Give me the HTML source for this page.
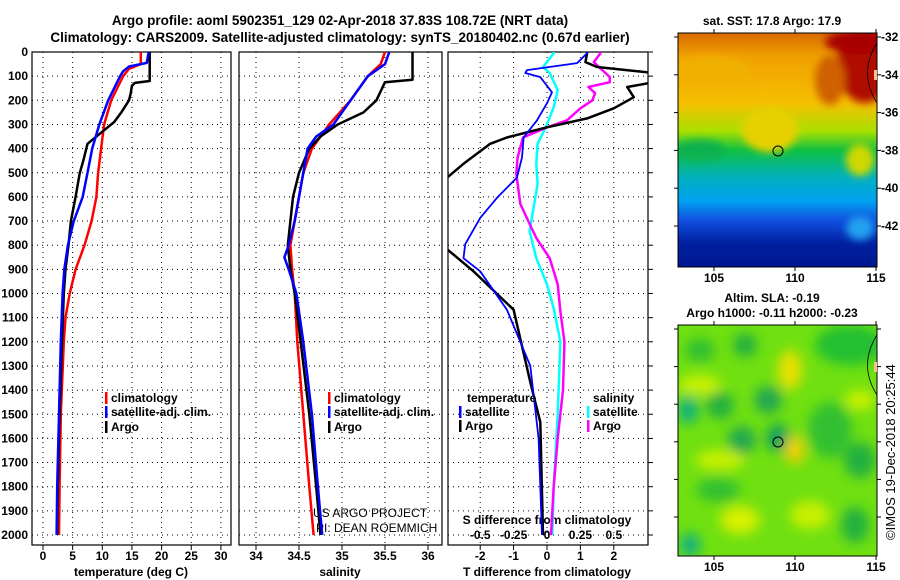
<!DOCTYPE html>
<html><head><meta charset="utf-8">
<style>
html,body{margin:0;padding:0;background:#fff;}
svg{display:block;font-family:"Liberation Sans",Arial,sans-serif;}
.b{font-weight:bold;font-size:12px;}
.t{font-weight:bold;font-size:13.5px;}
</style></head>
<body>
<svg id="chart" width="900" height="580" viewBox="0 0 900 580" xmlns="http://www.w3.org/2000/svg">
<defs>
<clipPath id="c1"><rect x="32" y="52" width="199" height="493"/></clipPath>
<clipPath id="c2"><rect x="239" y="52" width="203" height="493"/></clipPath>
<clipPath id="c3"><rect x="448" y="52" width="200" height="493"/></clipPath>
<clipPath id="cm1"><rect x="678" y="33" width="199" height="234"/></clipPath>
<clipPath id="cm2"><rect x="678" y="325" width="199" height="231"/></clipPath>
<filter id="bl" x="-50%" y="-50%" width="200%" height="200%"><feGaussianBlur stdDeviation="6"/></filter>
<filter id="bl2" x="-50%" y="-50%" width="200%" height="200%"><feGaussianBlur stdDeviation="4"/></filter>
<linearGradient id="sst" x1="0" y1="0" x2="0" y2="1">
<stop offset="0" stop-color="#d86a00"/><stop offset="0.1" stop-color="#f0a000"/>
<stop offset="0.3" stop-color="#f5c000"/><stop offset="0.42" stop-color="#a8e000"/>
<stop offset="0.5" stop-color="#10c040"/><stop offset="0.62" stop-color="#00b0c0"/>
<stop offset="0.72" stop-color="#00a0f0"/><stop offset="0.8" stop-color="#1050e0"/>
<stop offset="0.9" stop-color="#0020a0"/><stop offset="1" stop-color="#001890"/>
</linearGradient>
</defs>
<text class="t" x="340" y="25" text-anchor="middle">Argo profile: aoml 5902351_129 02-Apr-2018 37.83S 108.72E (NRT data)</text>
<text class="t" x="340" y="42" text-anchor="middle">Climatology: CARS2009. Satellite-adjusted climatology: synTS_20180402.nc (0.67d earlier)</text>
<g id="plots"></g>

<!-- maps -->
<g clip-path="url(#cm1)">
<rect x="678" y="33" width="199" height="234" fill="url(#sst)"/>
<g filter="url(#bl2)">
<ellipse cx="865" cy="65" rx="28" ry="38" fill="#b01000"/>
<ellipse cx="860" cy="42" rx="35" ry="12" fill="#a80000"/>
<ellipse cx="830" cy="80" rx="15" ry="25" fill="#d06000"/>
<ellipse cx="770" cy="130" rx="28" ry="22" fill="#e8d000"/>
<ellipse cx="700" cy="150" rx="25" ry="10" fill="#10b050"/>
<ellipse cx="860" cy="160" rx="14" ry="16" fill="#d0d800"/>
<ellipse cx="860" cy="228" rx="14" ry="12" fill="#20a0f0"/>
<ellipse cx="710" cy="70" rx="40" ry="14" fill="#f0b000"/>
</g>
</g>
<rect x="678" y="33" width="199" height="234" fill="none" stroke="#000"/>
<circle cx="778" cy="151" r="5" fill="none" stroke="#000"/>
<text class="b" x="772" y="25" text-anchor="middle">sat. SST: 17.8 Argo: 17.9</text>

<g clip-path="url(#cm2)">
<rect x="678" y="325" width="199" height="231" fill="#70e010"/>
<g filter="url(#bl)">
<ellipse cx="745" cy="345" rx="12" ry="12" fill="#20b040"/>
<ellipse cx="850" cy="345" rx="35" ry="20" fill="#20c030"/>
<ellipse cx="700" cy="350" rx="15" ry="12" fill="#30c030"/>
<ellipse cx="720" cy="405" rx="14" ry="14" fill="#20b040"/>
<ellipse cx="768" cy="400" rx="14" ry="14" fill="#20a850"/>
<ellipse cx="742" cy="440" rx="14" ry="14" fill="#20a850"/>
<ellipse cx="778" cy="438" rx="12" ry="14" fill="#10a060"/>
<ellipse cx="688" cy="410" rx="10" ry="14" fill="#10b080"/>
<ellipse cx="830" cy="430" rx="22" ry="28" fill="#30c030"/>
<ellipse cx="860" cy="460" rx="16" ry="18" fill="#20b040"/>
<ellipse cx="718" cy="490" rx="22" ry="12" fill="#30c030"/>
<ellipse cx="855" cy="525" rx="14" ry="18" fill="#20b040"/>
<ellipse cx="690" cy="545" rx="10" ry="12" fill="#10b080"/>
<ellipse cx="790" cy="370" rx="12" ry="20" fill="#e8e000"/>
<ellipse cx="795" cy="450" rx="10" ry="14" fill="#f0d000"/>
<ellipse cx="740" cy="520" rx="20" ry="14" fill="#d8f000"/>
<ellipse cx="810" cy="515" rx="20" ry="14" fill="#c8f000"/>
<ellipse cx="720" cy="460" rx="25" ry="10" fill="#c8f000"/>
<ellipse cx="700" cy="385" rx="22" ry="10" fill="#c8f000"/>
<ellipse cx="860" cy="400" rx="15" ry="10" fill="#c8f000"/>
</g>
</g>
<rect x="678" y="325" width="199" height="231" fill="none" stroke="#000"/>
<circle cx="778" cy="442" r="5" fill="none" stroke="#000"/>
<text class="b" x="772" y="302" text-anchor="middle">Altim. SLA: -0.19</text>
<text class="b" x="772" y="317" text-anchor="middle">Argo h1000: -0.11 h2000: -0.23</text>
<text x="895" y="540" font-size="13" transform="rotate(-90 895 540)">©IMOS 19-Dec-2018 20:25:44</text>
<g id="maps"></g>
</svg>
<script>
// ---- data ----
const depthTicks=[0,100,200,300,400,500,600,700,800,900,1000,1100,1200,1300,1400,1500,1600,1700,1800,1900,2000];
const tempTicks=[0,5,10,15,20,25,30];
const salTicks=[34,34.5,35,35.5,36];
const salTickLabels=["34","34.5","35","35.5","36"];
const tdiffTicks=[-2,-1,0,1,2];
const sdiffTicks=[-0.5,-0.25,0,0.25,0.5];
const sdiffLabels=["-0.5","-0.25","0","0.25","0.5"];
const latTicks=[-32,-34,-36,-38,-40,-42];
const lonTicks=[105,110,115];

const tClimP=[0,50,70,100,200,300,400,500,600,700,800,900,1000,1100,1200,1500,1800,2000];
const tClimV=[16.5,16.5,14.5,13.5,11.5,10.3,9.8,9.3,9.0,8.2,7.0,5.5,4.5,3.8,3.5,3.0,2.8,2.7];
const tSatP=[0,45,60,80,100,150,200,300,400,500,600,700,800,900,1000,1200,1500,1800,2000];
const tSatV=[17.8,17.5,14.5,13.5,13,12,11,9.5,8.3,7.5,6.7,5.2,4.2,3.6,3.3,3.0,2.7,2.4,2.3];
const tArgoP=[0,120,128,140,170,200,250,290,330,380,450,500,600,700,800,900,1000,1200,1500,1800,2000];
const tArgoV=[18,18,15.5,15,14.8,14.5,13.2,12,10,7.5,6.8,6.2,5.5,4.7,4.3,3.8,3.5,3.2,2.8,2.5,2.4];

const sClimP=[0,50,100,200,300,400,500,600,700,800,900,1000,1200,1500,1800,2000];
const sClimV=[35.5,35.45,35.3,35.1,34.85,34.65,34.55,34.5,34.45,34.4,34.42,34.45,34.48,34.55,34.62,34.67];
const sSatP=[0,50,100,200,300,350,400,500,600,700,800,850,900,1000,1200,1500,1800,2000];
const sSatV=[35.55,35.5,35.3,35.1,34.9,34.7,34.6,34.55,34.5,34.45,34.38,34.33,34.38,34.47,34.55,34.65,34.72,34.77];
const sArgoP=[0,115,125,200,250,300,350,400,500,600,700,800,900,1000,1200,1500,1800,2000];
const sArgoV=[35.82,35.82,35.5,35.4,35.25,34.95,34.75,34.62,34.5,34.43,34.4,34.37,34.4,34.45,34.52,34.62,34.7,34.75];

const dtArgoP=[0,5,42,62,87,125,145,187,233,275,312,354,380,463,533,804,908,1067,1367,1533,2000];
const dtArgoV=[1.2,1.2,1.15,1.5,3.2,3.2,2.4,2.6,2.0,1.2,0,-1.2,-1.7,-2.5,-3.1,-3.1,-2.2,-1.0,-0.5,-0.2,-0.12];
const dtSatP=[0,5,46,75,87,104,167,212,283,354,437,520,604,687,796,854,908,1067,1300,1600,2000];
const dtSatV=[1.2,1.2,0.9,-0.6,-0.65,-0.2,0.15,0,-0.3,-0.7,-0.75,-0.9,-1.5,-2.0,-2.45,-2.5,-2.0,-1.2,-0.5,-0.25,-0.15];
const dsArgoP=[0,5,42,104,125,145,170,200,233,283,312,354,437,504,629,712,770,854,962,1075,1200,1400,1600,1800,2000];
const dsArgoV=[0.4,0.4,0.35,0.47,0.47,0.31,0.36,0.34,0.25,0.15,0,-0.18,-0.22,-0.23,-0.2,-0.13,-0.08,0.02,0.08,0.1,0.13,0.12,0.08,0.05,0.03];
const dsSatP=[0,5,62,87,158,229,312,380,463,546,742,854,962,1062,1200,1500,1800,2000];
const dsSatV=[0.05,0.05,-0.03,0.02,0.08,0.05,-0.01,-0.07,-0.08,-0.07,-0.13,-0.08,0,0.05,0.1,0.08,0.05,0.04];

// ---- axes ----
const NS="http://www.w3.org/2000/svg";
const Y0=52, PPX=0.2415;
const yP=p=>Y0+p*PPX;
const xT=t=>43+t*5.93;
const xS=s=>256+(s-34)*86;
const xDT=t=>547+t*33.4;
const xDS=s=>547+s*133.6;
const root=document.getElementById('plots');
function el(tag,attrs,parent){const e=document.createElementNS(NS,tag);for(const k in attrs)e.setAttribute(k,attrs[k]);(parent||root).appendChild(e);return e;}
function txt(x,y,s,anchor,cls,parent){const e=el('text',{x:x,y:y,'text-anchor':anchor||'middle','class':cls||'b'},parent);e.textContent=s;return e;}

const panels=[{x:32,w:199,clip:'c1',name:'temperature'},{x:239,w:203,clip:'c2',name:'salinity'},{x:448,w:200,clip:'c3',name:'difference'}];
const YB=545;
panels.forEach((pn,i)=>{
  const g=el('g',{});
  
  
  depthTicks.forEach(p=>{
    const y=yP(p);
    const l=el('line',{x1:pn.x,x2:pn.x+pn.w,y1:y,y2:y,stroke:'#000','stroke-dasharray':'1,4'},g);
    
    
    if(i===2) el('line',{x1:pn.x+pn.w,x2:pn.x+pn.w+5,y1:y,y2:y,stroke:'#000'},g);
  });
  const f=el('rect',{x:pn.x,y:Y0,width:pn.w,height:YB-Y0,fill:'none',stroke:'#000','stroke-width':1.2},g);
  
  
});
depthTicks.forEach(p=>{const t=txt(28,yP(p)+4,String(p),'end');
  
  });
tempTicks.forEach(v=>{const x=xT(v);
  el('line',{x1:x,x2:x,y1:Y0,y2:YB,stroke:'#000','stroke-dasharray':'1,4'});
  el('line',{x1:x,x2:x,y1:YB,y2:YB+5,stroke:'#000'});
  const t=txt(x,560,String(v));
  
  });
salTicks.forEach((v,i)=>{const x=xS(v);
  el('line',{x1:x,x2:x,y1:Y0,y2:YB,stroke:'#000','stroke-dasharray':'1,4'});
  el('line',{x1:x,x2:x,y1:YB,y2:YB+5,stroke:'#000'});
  const t=txt(x,560,salTickLabels[i]);
  
  });
tdiffTicks.forEach(v=>{const x=xDT(v);
  el('line',{x1:x,x2:x,y1:Y0,y2:YB,stroke:'#000','stroke-dasharray':'1,4'});
  el('line',{x1:x,x2:x,y1:YB,y2:YB+5,stroke:'#000'});
  const t=txt(x,560,String(v));
  
  });
sdiffTicks.forEach((v,i)=>{const t=txt(xDS(v),539,sdiffLabels[i]);
  
  });
let a;
a=txt(547,524,'S difference from climatology');
a=txt(131,576,'temperature (deg C)');
a=txt(340,576,'salinity');
a=txt(547,576,'T difference from climatology');
a=el('text',{x:313,y:517,'font-size':12});a.textContent='US ARGO PROJECT';
a=el('text',{x:316,y:532,'font-size':12});a.textContent='PI: DEAN ROEMMICH';

function series(P,V,xf,color,w,clip,name){
  const pts=P.map((p,i)=>xf(V[i]).toFixed(1)+','+yP(p).toFixed(1)).join(' ');
  const l=el('polyline',{points:pts,fill:'none',stroke:color,'stroke-width':w,'clip-path':'url(#'+clip+')','stroke-linejoin':'round'});
  
  
}
series(tClimP,tClimV,xT,'#f00',2.5,'c1','temp-climatology-line');
series(tArgoP,tArgoV,xT,'#000',2.5,'c1','temp-argo-line');
series(tSatP,tSatV,xT,'#00f',2.5,'c1','temp-satellite-line');
series(sClimP,sClimV,xS,'#f00',2.5,'c2','sal-climatology-line');
series(sArgoP,sArgoV,xS,'#000',2.5,'c2','sal-argo-line');
series(sSatP,sSatV,xS,'#00f',2.5,'c2','sal-satellite-line');
series(dsSatP,dsSatV,xDS,'#0ff',2.5,'c3','sdiff-satellite-line');
series(dsArgoP,dsArgoV,xDS,'#f0f',2.5,'c3','sdiff-argo-line');
series(dtArgoP,dtArgoV,xDT,'#000',2.5,'c3','tdiff-argo-line');
series(dtSatP,dtSatV,xDT,'#00f',1.8,'c3','tdiff-satellite-line');

function leg(x,y,color,label,name){
  const g=el('g',{});
  
  
  if(color) el('rect',{x:x,y:y-10,width:2.5,height:12,fill:color},g);
  const t=el('text',{x:x+(color?6:0),y:y,'class':'b'},g);t.textContent=label;
}
leg(105,402,'#f00','climatology','legend-temp-climatology');
leg(105,416,'#00f','satellite-adj. clim.','legend-temp-satellite');
leg(105,431,'#000','Argo','legend-temp-argo');
leg(328,402,'#f00','climatology','legend-sal-climatology');
leg(328,416,'#00f','satellite-adj. clim.','legend-sal-satellite');
leg(328,431,'#000','Argo','legend-sal-argo');
leg(467,402,null,'temperature','legend-temperature-header');
leg(459,416,'#00f','satellite','legend-tdiff-satellite');
leg(459,430,'#000','Argo','legend-tdiff-argo');
leg(593,402,null,'salinity','legend-salinity-header');
leg(587,416,'#0ff','satellite','legend-sdiff-satellite');
leg(587,430,'#f0f','Argo','legend-sdiff-argo');

// map axes
const mroot=document.getElementById('maps');
const xLon=l=>714+(l-105)*16.2;
[[33,267],[325,556]].forEach(([top,bot],k)=>{
  const yLat=la=>top+4+(-32-la)*(k===0?18.9:18.8);
  latTicks.forEach(la=>{const y=yLat(la);
    el('line',{x1:877,x2:881,y1:y,y2:y,stroke:'#000'},mroot);
    el('line',{x1:678,x2:674,y1:y,y2:y,stroke:'#000'},mroot);
    if(k===0){
      const t=txt(881,y+4,String(la),'start','b',mroot);
      
      
    }});
  lonTicks.forEach(lo=>{const x=xLon(lo);
    el('line',{x1:x,x2:x,y1:bot,y2:bot+4,stroke:'#000'},mroot);
    el('line',{x1:x,x2:x,y1:top,y2:top-4,stroke:'#000'},mroot);
    const t=txt(x,bot+15,String(lo),'middle','b',mroot);
    
    });
  el('path',{d:`M877 ${top+10} Q858 ${top+40} 877 ${top+70}`,fill:'none',stroke:'#000','stroke-width':0.8},mroot);
  el('rect',{x:874,y:top+37,width:3,height:10,fill:'#f8c090'},mroot);
});
</script>
</body></html>
